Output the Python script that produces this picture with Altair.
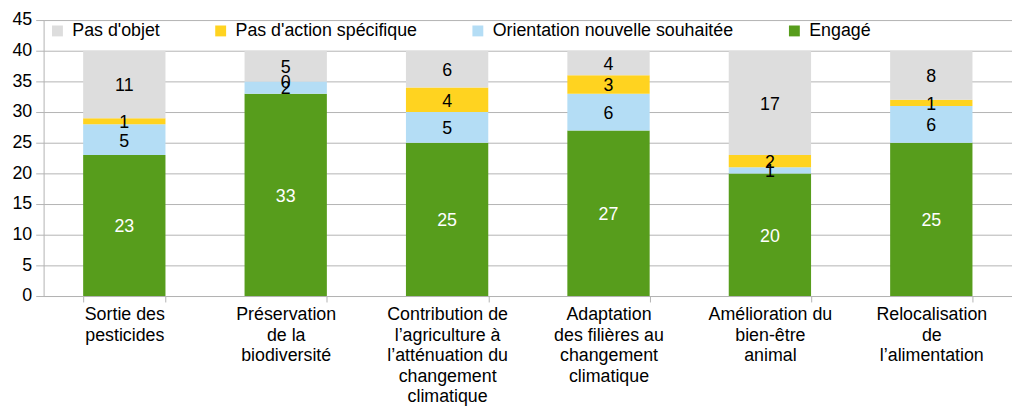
import altair as alt
import pandas as pd

categories = [
    "Sortie des\npesticides",
    "Préservation\nde la\nbiodiversité",
    "Contribution de\nl’agriculture à\nl’atténuation du\nchangement\nclimatique",
    "Adaptation\ndes filières au\nchangement\nclimatique",
    "Amélioration du\nbien-être\nanimal",
    "Relocalisation\nde\nl’alimentation",
]
series = ["Engagé", "Orientation nouvelle souhaitée", "Pas d'action spécifique", "Pas d'objet"]
engage = [23, 33, 25, 27, 20, 25]
orientation = [5, 2, 5, 6, 1, 6]
pas_action = [1, 0, 4, 3, 2, 1]
pas_objet = [11, 5, 6, 4, 17, 8]
y_ticks = [0, 5, 10, 15, 20, 25, 30, 35, 40, 45]

legend_order = ["Pas d'objet", "Pas d'action spécifique", "Orientation nouvelle souhaitée", "Engagé"]
colors = ["#dddddd", "#ffd320", "#b4ddf5", "#579d1c"]

rows = []
for i, c in enumerate(categories):
    for j, (s, vals) in enumerate(zip(series, [engage, orientation, pas_action, pas_objet])):
        rows.append({"cat": c, "serie": s, "value": vals[i], "order": j})
df = pd.DataFrame(rows)

FONT = "Liberation Sans"

x_scale = alt.Scale(paddingInner=0.49, paddingOuter=0.245)
y_scale = alt.Scale(domain=[0, 45], nice=False)

x_axis = alt.Axis(
    labelAngle=0,
    labelExpr="datum.value ? split(datum.value, '\\n') : ''",
    tickBand="extent",
    tickSize=6,
    labelPadding=4,
    labelLineHeight=20.7,
    labelLimit=0,
    labelBaseline="top",
    grid=False,
)
y_axis = alt.Axis(values=y_ticks, tickSize=8, labelPadding=4, grid=True)

x_enc = alt.X("cat:N", sort=categories, title=None, scale=x_scale, axis=x_axis)

bars = alt.Chart(df).mark_bar().encode(
    x=x_enc,
    y=alt.Y("value:Q", stack="zero", title=None, scale=y_scale, axis=y_axis),
    color=alt.Color(
        "serie:N",
        scale=alt.Scale(domain=legend_order, range=colors),
        legend=alt.Legend(
            title=None,
            orient="none",
            legendX=5,
            legendY=2,
            direction="horizontal",
            columns=4,
            symbolType="square",
            symbolSize=121,
            symbolStrokeWidth=0,
            labelOffset=6,
            columnPadding=52,
            labelFontSize=18,
            labelFont=FONT,
            labelColor="#000000",
            padding=0,
            labelLimit=0,
        ),
    ),
    order=alt.Order("order:Q", sort="ascending"),
)

labels = (
    alt.Chart(df)
    .transform_stack(
        stack="value",
        groupby=["cat"],
        sort=[alt.SortField("order", "ascending")],
        as_=["y0", "y1"],
    )
    .transform_calculate(mid="(datum.y0 + datum.y1) / 2")
    .mark_text(fontSize=18, font=FONT, baseline="middle", align="center", dy=2)
    .encode(
        x=x_enc,
        y=alt.Y("mid:Q", title=None, scale=y_scale, axis=y_axis),
        text=alt.Text("value:Q"),
        color=alt.condition(alt.datum.serie == "Engagé", alt.value("#ffffff"), alt.value("#000000")),
    )
)

chart = (
    alt.layer(bars, labels)
    .properties(width=979, height=279, padding={"left": 3, "top": 1, "right": 0, "bottom": 0})
    .configure_view(stroke=None)
    .configure_axis(
        labelFont=FONT,
        labelFontSize=18,
        labelColor="#000000",
        domainColor="#b3b3b3",
        tickColor="#b3b3b3",
        gridColor="#b3b3b3",
        domainWidth=1,
        gridWidth=1,
    )
)

chart.save("out.html", embed_options={"renderer": "svg", "actions": False})
